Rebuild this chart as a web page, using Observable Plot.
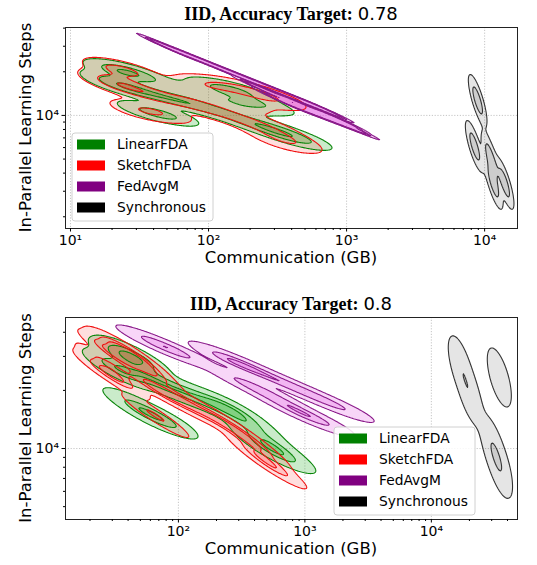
<!DOCTYPE html>
<html><head><meta charset="utf-8">
<script src="https://cdn.jsdelivr.net/npm/d3@7"></script>
<script src="https://cdn.jsdelivr.net/npm/@observablehq/plot@0.6"></script>
<style>
body{margin:0;background:#fff;}
#root{position:relative;width:537px;height:565px;overflow:hidden;background:#fff;}
#root svg{position:absolute;left:0;}
</style></head><body><div id="root"></div>
<script>
// ---------- data ----------
const seriesNames = ["LinearFDA", "SketchFDA", "FedAvgM", "Synchronous"];
const legendColors = ["#008000", "#ff0000", "#800080", "#000000"];

// Panel 1: IID, accuracy target 0.78
const target78 = "0.78";
const commDomain78 = [9.2, 17300];
const stepsDomain78 = [1660, 40400];
const linearComm78 = [21.5, 22.3, 26.3, 29.6, 23.0, 32.1, 44.9, 62.7, 87.5, 133, 201, 281, 349, 449, 38.0, 48.8, 118, 165, 246, 80.5, 171];
const linearSteps78 = [17160, 19810, 20100, 19180, 15850, 14870, 13520, 12690, 11540, 10320, 8950, 8130, 7510, 6830, 10490, 10160, 15350, 14870, 11910, 14410, 11910];
const sketchComm78 = [20.2, 21.2, 26.3, 22.3, 27.2, 38.0, 53.1, 80.5, 112, 171, 246, 321, 393, 32.1, 44.9, 95.1, 144, 219, 306, 74.1, 171];
const sketchSteps78 = [17720, 21090, 20100, 16360, 15350, 13960, 12900, 11910, 10820, 9530, 8400, 7280, 6410, 10820, 10490, 16360, 15850, 14410, 12690, 14870, 12100];
const fedComm78 = [53.1, 80.5, 122, 185, 281, 427, 648, 361, 505, 705, 983, 259, 464, 832];
const fedSteps78 = [29060, 24850, 21160, 18060, 15400, 13140, 11210, 12370, 10965, 9720, 8613, 14870, 11910, 9530];
const syncComm78 = [8900, 8470, 11040, 11610, 13960];
const syncSteps78 = [12690, 6110, 5130, 3400, 3400];

// Panel 2: IID, accuracy target 0.8
const target80 = "0.8";
const commDomain80 = [12.8, 48000];
const stepsDomain80 = [4290, 47700];
const linearComm80 = [34.2, 36.1, 42.5, 45.7, 34.8, 54.8, 78.9, 114, 164, 235, 282, 371, 487, 534, 664, 60.1, 78.9, 45.7];
const linearSteps80 = [25980, 29610, 29970, 29970, 25360, 23890, 21210, 19510, 17740, 16310, 15370, 13160, 11000, 10120, 9200, 14830, 13970, 16710];
const sketchComm80 = [30.1, 29.0, 31.8, 34.8, 33.6, 41.7, 48.3, 60.1, 60.1, 78.9, 104, 149, 215, 309, 406, 445, 553, 65.8, 29.0];
const sketchSteps80 = [24470, 26930, 30330, 32190, 30330, 31430, 28580, 24760, 21210, 19510, 17740, 15740, 13970, 12100, 10360, 9200, 8070, 14830, 23890];
const fedComm80 = [65.8, 94.7, 248, 338, 585, 1009, 1742, 338, 534, 841, 1211];
const fedSteps80 = [35420, 31810, 29090, 26700, 22860, 19570, 16760, 21980, 18820, 15930, 14140];
const syncComm80 = [16960, 20340, 34470, 30350, 35120];
const syncSteps80 = [26930, 18820, 23330, 10360, 7880];

// ---------- style ----------
const fillColors = ["#22aa22", "#ff2020", "#dd44dd", "#000000"];
const fillOpac = [0.24, 0.15, 0.22, 0.1];
const strokeColors = ["#0a850a", "#f01010", "#8a1a8a", "#333333"];
const bw78 = [0.56, 0.56, 0.38, 0.5];
const bw80 = [0.5, 0.5, 0.55, 0.5];
const isoProps = [0.05, 0.4, 0.75];

const supMap = {"0":"⁰","1":"¹","2":"²","3":"³","4":"⁴","5":"⁵","6":"⁶","-":"⁻"};
const fmtPow = d => "10" + String(Math.round(Math.log10(d))).split("").map(c => supMap[c]).join("");
function majorTicks([a, b]) { const r = []; for (let k = Math.floor(Math.log10(a)); k <= Math.ceil(Math.log10(b)); k++) { const v = 10 ** k; if (v >= a && v <= b) r.push(v); } return r; }
function minorTicks([a, b]) { const r = []; for (let k = Math.floor(Math.log10(a)); k <= Math.ceil(Math.log10(b)); k++) for (let m = 2; m <= 9; m++) { const v = m * 10 ** k; if (v >= a && v <= b) r.push(v); } return r; }

function kdeGrid(comm, steps, adjust, nTotal, gx, gy, nx, ny) {
  const n = comm.length;
  const X = comm.map(Math.log10), Y = steps.map(Math.log10);
  const mx = d3.mean(X), my = d3.mean(Y);
  let cxx = 0, cxy = 0, cyy = 0;
  for (let i = 0; i < n; i++) { const dx = X[i] - mx, dy = Y[i] - my; cxx += dx * dx; cxy += dx * dy; cyy += dy * dy; }
  cxx /= (n - 1); cxy /= (n - 1); cyy /= (n - 1);
  const f2 = Math.pow(n, -1 / 3) * adjust * adjust;
  const a = cxx * f2, b = cxy * f2, d = cyy * f2;
  const det = a * d - b * b;
  const ia = d / det, ib = -b / det, id = a / det;
  const norm = (n / nTotal) / (n * 2 * Math.PI * Math.sqrt(det));
  const vals = new Float64Array(nx * ny);
  for (let j = 0; j < ny; j++) {
    const ly = gy(j);
    for (let i = 0; i < nx; i++) {
      const lx = gx(i); let s = 0;
      for (let k = 0; k < n; k++) {
        const dx = lx - X[k], dy = ly - Y[k];
        const q = ia * dx * dx + 2 * ib * dx * dy + id * dy * dy;
        if (q < 60) s += Math.exp(-0.5 * q);
      }
      vals[j * nx + i] = s * norm;
    }
  }
  return vals;
}

function drawChart(cfg) {
  const W = 537, ml = 65, mr = 20;
  const {top, height, mt, mb, xDom, yDom, series, target, legend, bw} = cfg;
  const fw = W - ml - mr, fh = height - mt - mb;
  const lx0 = Math.log10(xDom[0]), lx1 = Math.log10(xDom[1]);
  const ly0 = Math.log10(yDom[0]), ly1 = Math.log10(yDom[1]);
  const pad = 8;
  const nx = Math.round(fw) + 2 * pad, ny = Math.round(fh) + 2 * pad;
  const sx = (lx1 - lx0) / fw, sy = (ly1 - ly0) / fh;
  const gx = i => lx0 + (i - pad) * sx, gy = j => ly0 + (j - pad) * sy;
  const nTotal = d3.sum(series, s => s.comm.length);
  const grids = series.map((s, si) => kdeGrid(s.comm, s.steps, bw[si], nTotal, gx, gy, nx, ny));
  const all = new Float64Array(nx * ny * grids.length);
  grids.forEach((g, k) => all.set(g, k * nx * ny));
  all.sort();
  let total = 0; for (let i = 0; i < all.length; i++) total += all[i];
  const levels = new Array(isoProps.length).fill(null);
  let cum = 0;
  for (let i = all.length - 1; i >= 0; i--) {
    cum += all[i];
    isoProps.forEach((p, t) => { if (levels[t] === null && cum >= (1 - p) * total) levels[t] = all[i]; });
    if (levels.every(v => v !== null)) break;
  }
  const rows = [];
  grids.forEach((vals, si) => {
    const cs = d3.contours().size([nx, ny]).thresholds(levels)(vals);
    cs.forEach((c, li) => c.coordinates.forEach((poly, pi) => poly.forEach((ring, ri) => {
      const id = `${si}-${li}-${pi}-${ri}`;
      ring.forEach(([cx, cy]) => rows.push({si, li, id, hole: ri > 0, x: 10 ** gx(cx - 0.5), y: 10 ** gy(cy - 0.5)}));
    })));
  });
  const fills = series.map((s, si) => Plot.line(rows.filter(r => r.si === si && !r.hole), {x: "x", y: "y", z: "id", fill: fillColors[si], fillOpacity: fillOpac[si], stroke: "none", clip: true}));
  const lines = series.map((s, si) => Plot.line(rows.filter(r => r.si === si), {x: "x", y: "y", z: "id", stroke: strokeColors[si], strokeWidth: 1.1, fill: "none", clip: true}));

  const plot = Plot.plot({
    width: W, height, marginLeft: ml, marginRight: mr, marginTop: mt, marginBottom: mb,
    x: {type: "log", domain: xDom, axis: null},
    y: {type: "log", domain: yDom, axis: null},
    style: {fontFamily: "DejaVu Sans", fontSize: "14px", background: "white", color: "black"},
    marks: [
      Plot.gridX({ticks: majorTicks(xDom), stroke: "#b8b8b8", strokeOpacity: 1, strokeWidth: 0.8, strokeDasharray: "1.2,1.6"}),
      Plot.gridY({ticks: majorTicks(yDom), stroke: "#b8b8b8", strokeOpacity: 1, strokeWidth: 0.8, strokeDasharray: "1.2,1.6"}),
      ...fills,
      ...lines,
      Plot.frame({stroke: "#222", strokeWidth: 1}),
      Plot.axisX({ticks: majorTicks(xDom), tickFormat: fmtPow, tickSize: 3.5, tickPadding: 3, label: null, fontSize: 14}),
      Plot.axisX({ticks: minorTicks(xDom), tickFormat: () => "", tickSize: 2, label: null}),
      Plot.axisY({ticks: majorTicks(yDom), tickFormat: fmtPow, tickSize: 3.5, tickPadding: 3, label: null, fontSize: 14}),
      Plot.axisY({ticks: minorTicks(yDom), tickFormat: () => "", tickSize: 2, label: null})
    ]
  });
  plot.style.top = top + "px";
  const svg = d3.select(plot);
  const cx = ml + fw / 2;
  const t = svg.append("text").attr("x", cx).attr("y", mt - 7).attr("text-anchor", "middle").attr("fill", "black");
  t.append("tspan").attr("font-family", "Liberation Serif, serif").attr("font-weight", "bold").attr("font-size", 18).text("IID, Accuracy Target:");
  t.append("tspan").attr("dx", 5).attr("font-family", "DejaVu Sans").attr("font-size", 18).text(target);
  svg.append("text").attr("x", cx).attr("y", height - mb + 35).attr("text-anchor", "middle")
    .attr("font-family", "DejaVu Sans").attr("font-size", 16.5).attr("fill", "black").text("Communication (GB)");
  svg.append("text").attr("transform", `translate(31,${mt + fh / 2}) rotate(-90)`).attr("text-anchor", "middle")
    .attr("font-family", "DejaVu Sans").attr("font-size", 16.5).attr("fill", "black").text("In-Parallel Learning Steps");
  const lg = svg.append("g").attr("transform", `translate(${legend[0]},${legend[1]})`);
  lg.append("rect").attr("width", 141).attr("height", 88).attr("rx", 3).attr("fill", "white").attr("fill-opacity", 0.85).attr("stroke", "#d0d0d0");
  seriesNames.forEach((name, i) => {
    const yy = 11.5 + i * 21;
    lg.append("rect").attr("x", 5).attr("y", yy - 5).attr("width", 28).attr("height", 10).attr("fill", legendColors[i]);
    lg.append("text").attr("x", 45).attr("y", yy).attr("dy", "0.36em").attr("text-anchor", "start").attr("font-family", "DejaVu Sans").attr("font-size", 13.8).attr("fill", "black").text(name);
  });
  document.getElementById("root").appendChild(plot);
}

drawChart({
  top: 0, height: 282, mt: 27, mb: 54, xDom: commDomain78, yDom: stepsDomain78, target: target78, legend: [72, 133], bw: bw78,
  series: [
    {comm: linearComm78, steps: linearSteps78},
    {comm: sketchComm78, steps: sketchSteps78},
    {comm: fedComm78, steps: fedSteps78},
    {comm: syncComm78, steps: syncSteps78}
  ]
});
drawChart({
  top: 282, height: 283, mt: 35, mb: 46, xDom: commDomain80, yDom: stepsDomain80, target: target80, legend: [334, 145], bw: bw80,
  series: [
    {comm: linearComm80, steps: linearSteps80},
    {comm: sketchComm80, steps: sketchSteps80},
    {comm: fedComm80, steps: fedSteps80},
    {comm: syncComm80, steps: syncSteps80}
  ]
});
</script></body></html>
